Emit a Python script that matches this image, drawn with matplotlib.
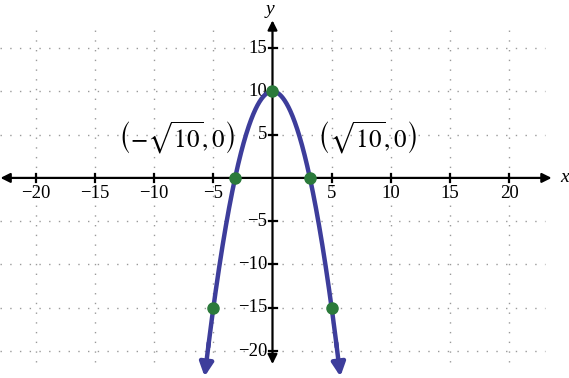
import numpy as np
import matplotlib
matplotlib.use("Agg")
import matplotlib.pyplot as plt

plt.rcParams['mathtext.fontset'] = 'stix'
plt.rcParams['font.family'] = ['Liberation Serif', 'DejaVu Serif']

# ---- data ----
x_ticks = [-20, -15, -10, -5, 5, 10, 15, 20]
y_ticks = [-20, -15, -10, -5, 5, 10, 15]
x_tick_labels = ['−20', '−15', '−10', '−5', '5', '10', '15', '20']
y_tick_labels = ['−20', '−15', '−10', '−5', '5', '10', '15']
grid_x = [-20, -15, -10, -5, 5, 10, 15, 20]
grid_y = [-20, -15, -10, -5, 5, 10, 15]
point_x = [0, -np.sqrt(10), np.sqrt(10), -5, 5]
point_y = [10, 0, 0, -15, -15]
curve_a, curve_c = -1.0, 10.0          # y = a x^2 + c
curve_xmax = 5.74
label_texts = [r'$\left(-\sqrt{10},0\right)$', r'$\left(\sqrt{10},0\right)$']
label_pos = [(-8.1, 4.6), (8.0, 4.6)]

fig = plt.figure(figsize=(5.69, 3.78), dpi=100)
ax = fig.add_axes([0, 0, 1, 1])
ax.set_xlim(-23.04, 25.07)
ax.set_ylim(-23.11, 20.55)
ax.axis('off')

grid_kw = dict(color='#9a9a9a', lw=1.0, linestyle=(0, (1, 6)), zorder=1)
for gy in grid_y:
    ax.plot([-23, 23], [gy, gy], **grid_kw)
for gx in grid_x:
    ax.plot([gx, gx], [-21.3, 17.2], **grid_kw)

# axes with arrows
ax.annotate('', xy=(23.6, 0), xytext=(-23.0, 0),
            arrowprops=dict(arrowstyle='<|-|>', lw=1.6, color='black',
                            mutation_scale=14, shrinkA=0, shrinkB=0), zorder=3)
ax.annotate('', xy=(0, 18.2), xytext=(0, -21.5),
            arrowprops=dict(arrowstyle='<|-|>', lw=1.6, color='black',
                            mutation_scale=14, shrinkA=0, shrinkB=0), zorder=3)

# tick marks
for tx in x_ticks:
    ax.plot([tx, tx], [-0.5, 0.5], color='black', lw=1.6, zorder=3)
for ty in y_ticks:
    ax.plot([-0.3, 0.35], [ty, ty], color='black', lw=1.6, zorder=3)

for tx, lab in zip(x_ticks, x_tick_labels):
    ax.text(tx, -1.85, lab, ha='center', va='center', fontsize=13.5, zorder=4)
for ty, lab in zip(y_ticks, y_tick_labels):
    ax.text(-0.45, ty, lab, ha='right', va='center', fontsize=13.5, zorder=4)

ax.text(24.7, 0, 'x', style='italic', ha='center', va='center', fontsize=14)
ax.text(-0.2, 19.5, 'y', style='italic', ha='center', va='center', fontsize=14)

# curve
col = '#3d3d9b'
xs = np.linspace(-curve_xmax + 0.3, curve_xmax - 0.3, 400)
ax.plot(xs, curve_a * xs**2 + curve_c, color=col, lw=3.2, zorder=5,
        solid_capstyle='butt')
for s in (-1, 1):
    x1 = s * curve_xmax
    x0 = s * (curve_xmax - 0.35)
    ax.annotate('', xy=(x1, curve_a * x1**2 + curve_c),
                xytext=(x0, curve_a * x0**2 + curve_c),
                arrowprops=dict(arrowstyle='-|>', color=col, lw=3.2,
                                mutation_scale=20, shrinkA=0, shrinkB=0),
                zorder=5)

ax.plot(point_x, point_y, 'o', color='#2b7a3b', markersize=8, zorder=6)

for t, (lx, ly) in zip(label_texts, label_pos):
    ax.text(lx, ly, t, ha='center', va='center', fontsize=18, zorder=4)

fig.savefig('out.png', dpi=100)
